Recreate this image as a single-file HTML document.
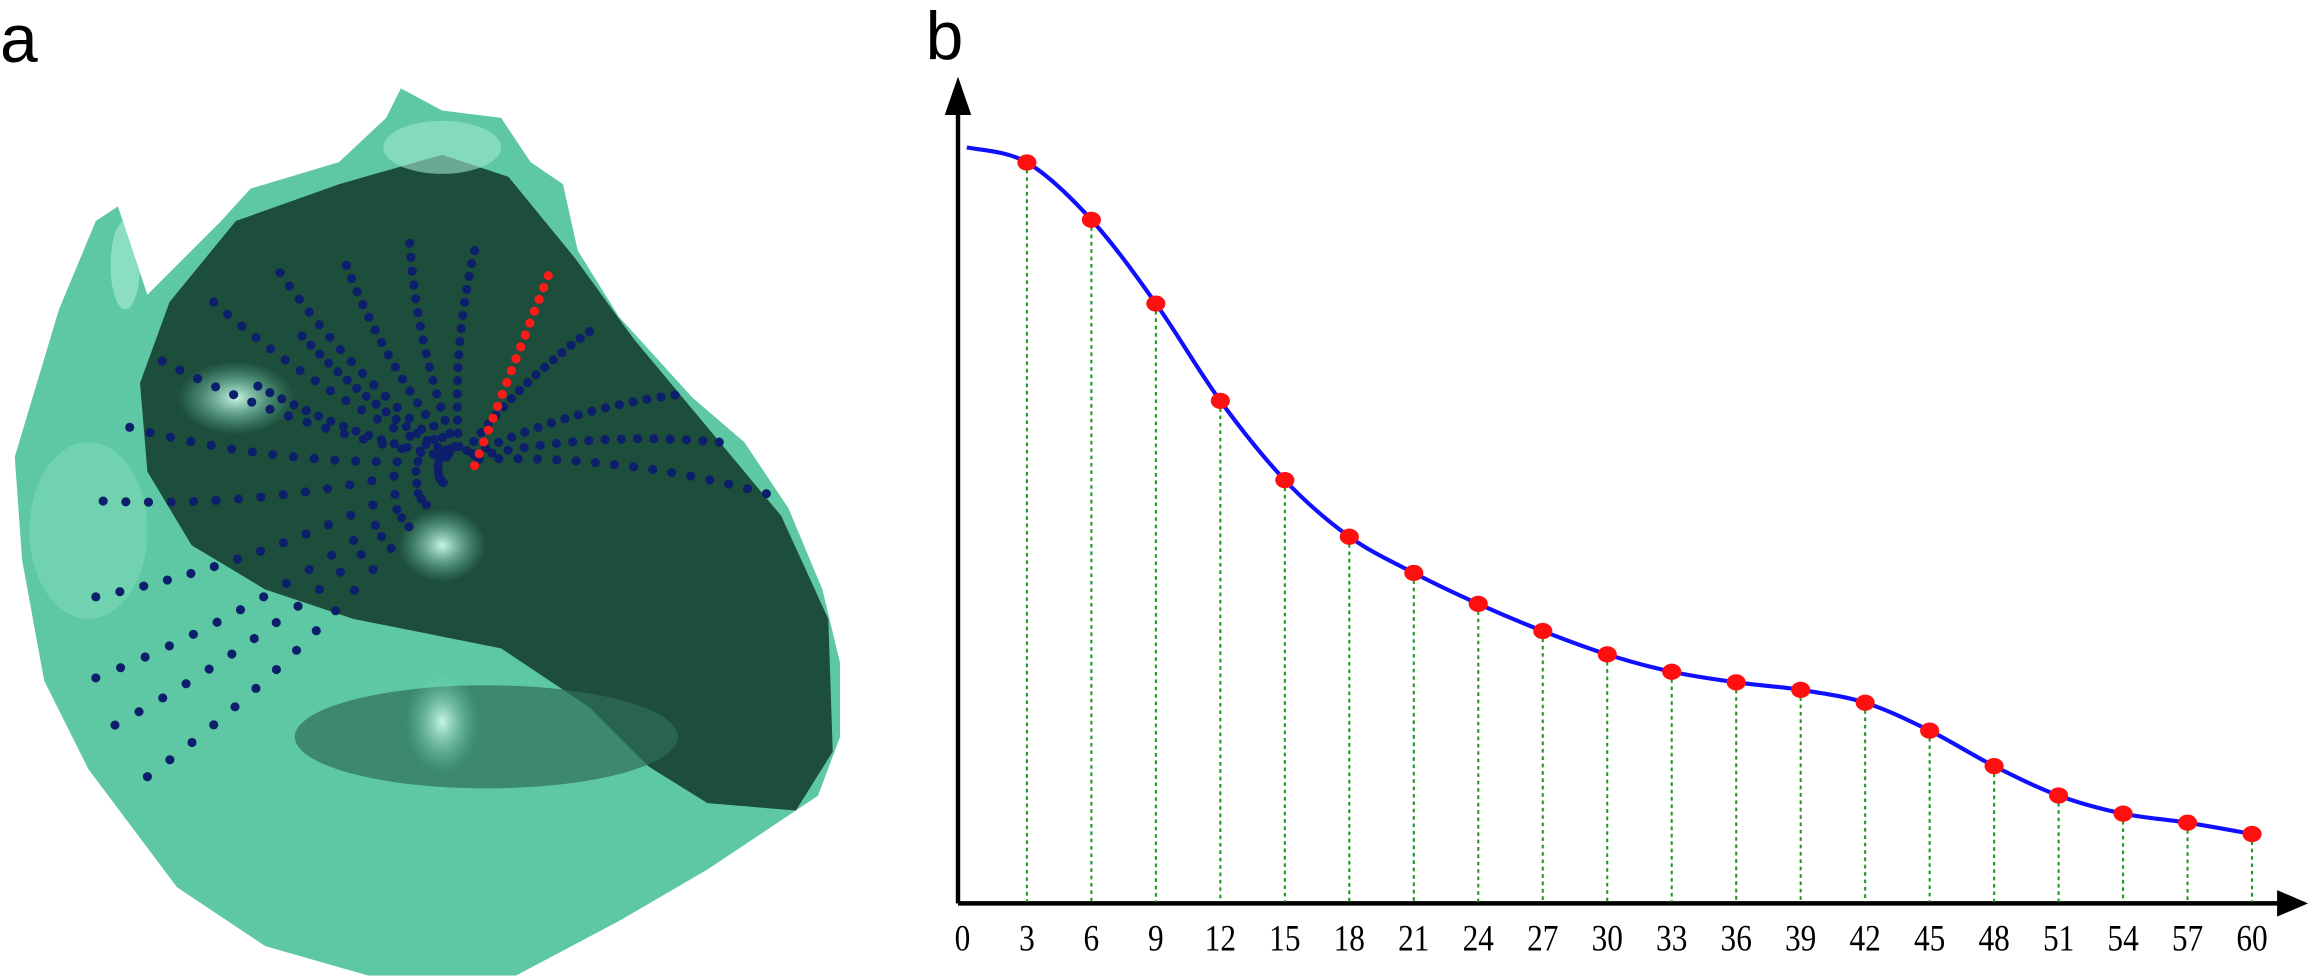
<!DOCTYPE html>
<html><head><meta charset="utf-8"><style>
html,body{margin:0;padding:0;background:#fff;width:2311px;height:980px;overflow:hidden}
svg{display:block}
</style></head><body>
<svg id="fig" width="2311" height="980" viewBox="0 0 1568 665" preserveAspectRatio="none" xmlns="http://www.w3.org/2000/svg">
<defs>
<radialGradient id="lt" cx="50%" cy="50%" r="50%"><stop offset="0" stop-color="#c8f5e4"/><stop offset="1" stop-color="#5fc9a5" stop-opacity="0"/></radialGradient>
<clipPath id="fc"><polygon points="10,310 40,210 65,150 80,140 100,200 150,150 170,128 230,110 262,80 272,60 300,75 340,80 360,110 382,125 392,170 420,215 470,270 505,300 535,345 558,400 570,450 570,500 555,540 480,590 420,625 350,662 250,662 180,642 120,602 60,522 30,462 15,380"/></clipPath>
</defs>
<text x="0" y="42" font-family="Liberation Sans, sans-serif" font-size="46">a</text>
<text x="628" y="40" font-family="Liberation Sans, sans-serif" font-size="46">b</text>
<g id="face" clip-path="url(#fc)">
<rect x="0" y="50" width="580" height="620" fill="#5ec8a4"/>
<polygon fill="#1d4d3b" points="115,205 160,150 230,125 300,105 345,120 390,175 430,230 480,290 530,350 562,420 565,510 540,550 480,545 440,520 400,480 340,440 290,430 240,420 180,400 130,370 100,320 95,260"/>
<ellipse cx="330" cy="500" rx="130" ry="35" fill="#2f6e57" opacity="0.7"/>
<ellipse cx="160" cy="270" rx="40" ry="25" fill="url(#lt)"/>
<ellipse cx="300" cy="370" rx="30" ry="25" fill="url(#lt)"/>
<ellipse cx="300" cy="490" rx="25" ry="35" fill="url(#lt)"/>
<ellipse cx="60" cy="360" rx="40" ry="60" fill="#7fd8b7" opacity="0.6"/>
<ellipse cx="300" cy="100" rx="40" ry="18" fill="#9ee8cc" opacity="0.6"/>
<ellipse cx="85" cy="180" rx="10" ry="30" fill="#9ee8cc" opacity="0.7"/>
</g>
<g id="dots"></g>
<g id="chart"></g>
</svg>
<script>
// ---- chart data ----
const categories=[3,6,9,12,15,18,21,24,27,30,33,36,39,42,45,48,51,54,57,60];
const sampleValues=[98.0,90.4,79.3,66.4,55.9,48.4,43.6,39.5,35.9,32.8,30.5,29.1,28.1,26.4,22.7,18.0,14.1,11.7,10.5,9.0];
const startValue=100;
const tickLabels=[0,3,6,9,12,15,18,21,24,27,30,33,36,39,42,45,48,51,54,57,60];

const NS='http://www.w3.org/2000/svg';
function mk(t,a,p){const e=document.createElementNS(NS,t);for(const k in a)e.setAttribute(k,a[k]);p.appendChild(e);return e;}
const X0=653,X1=1528,Y0=612;
const xs=v=>X0+(v/60)*(X1-X0);
const ys=v=>Y0-v*5.12;
const g=document.getElementById('chart');

let ax=mk('line',{x1:650,y1:613,x2:1548,y2:613,stroke:'#000','stroke-width':3},g);


let xa=mk('polygon',{points:'1545,604 1566,613 1545,622',fill:'#000'},g);


let ay=mk('line',{x1:650,y1:613,x2:650,y2:72,stroke:'#000','stroke-width':3},g);


let ya=mk('polygon',{points:'641,78 650,52 659,78',fill:'#000'},g);



tickLabels.forEach(t=>{
 const tx=mk('text',{x:xs(t),y:645,'text-anchor':'middle','font-family':'Liberation Serif, serif','font-size':25,transform:`translate(${xs(t)},645) scale(0.85,1) translate(${-xs(t)},-645)`},g);
 tx.textContent=t;
 
 
});

categories.forEach((c,i)=>{
 const l=mk('line',{x1:xs(c),y1:ys(sampleValues[i]),x2:xs(c),y2:612,stroke:'#1a9a1a','stroke-width':1.4,'stroke-dasharray':'2.5,2.5'},g);
 
 
});

const px=[[xs(0)+3,ys(startValue)]].concat(categories.map((c,i)=>[xs(c),ys(sampleValues[i])]));
let d='M'+px[0][0]+','+px[0][1];
for(let i=0;i<px.length-1;i++){
 const p0=px[Math.max(0,i-1)],p1=px[i],p2=px[i+1],p3=px[Math.min(px.length-1,i+2)];
 d+=` C${p1[0]+(p2[0]-p0[0])/6},${p1[1]+(p2[1]-p0[1])/6} ${p2[0]-(p3[0]-p1[0])/6},${p2[1]-(p3[1]-p1[1])/6} ${p2[0]},${p2[1]}`;
}
const cv=mk('path',{d:d,fill:'none',stroke:'#1010ff','stroke-width':2.8},g);


categories.forEach((c,i)=>{
 const p=mk('ellipse',{cx:xs(c),cy:ys(sampleValues[i]),rx:6.5,ry:5.5,fill:'#ff1010'},g);
 
 
});

const dg=document.getElementById('dots');
const C=[312,312];
const ends=[[190,185],[235,180],[278,165],[322,170],[145,205],[110,245],[88,290],[70,340],[65,405],[65,460],[78,492],[100,527],[400,225],[458,268],[520,335],[488,300],[175,262],[205,228]];
ends.forEach(e=>{
 const n=16;
 const mx=(C[0]+e[0])/2+(e[1]-C[1])*0.08, my=(C[1]+e[1])/2-(e[0]-C[0])*0.08;
 for(let k=1;k<=n;k++){const t=k/n;const x=(1-t)*(1-t)*C[0]+2*t*(1-t)*mx+t*t*e[0];const y=(1-t)*(1-t)*C[1]+2*t*(1-t)*my+t*t*e[1];
  const c=mk('circle',{cx:x,cy:y,r:3.1,fill:'#0d1f6b'},dg);
  
  }
});
for(let k=0;k<=16;k++){const t=k/16;
 const c=mk('circle',{cx:322+(372-322)*t,cy:316+(187-316)*t,r:3.1,fill:'#ff1a1a'},dg);
 
 }
</script>
</body></html>
